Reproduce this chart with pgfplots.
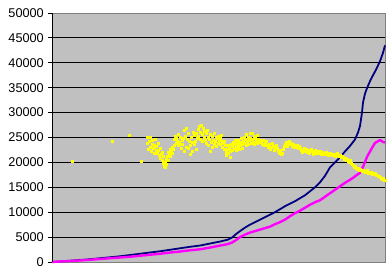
\documentclass[border=0pt]{standalone}
\usepackage{pgfplots}
\pgfplotsset{compat=1.18}
\usepackage{fontspec}
\setmainfont{Liberation Sans}
\definecolor{bg}{HTML}{C0C0C0}
\definecolor{frame}{HTML}{808080}
\definecolor{navyc}{HTML}{000080}
\definecolor{magc}{HTML}{FF00FF}
\definecolor{yelc}{HTML}{FFFF00}
\begin{document}
\begin{tikzpicture}
\begin{axis}[
  scale only axis,
  width=333pt, height=249pt,
  xmin=52, xmax=385, ymin=0, ymax=50000,
  xtick=\empty,
  ytick={0,5000,...,50000},
  ytick pos=left,
  tick align=outside,
  major tick length=4pt,
  tick style={black, line width=0.8pt},
  ymajorgrids,
  grid style={black, line width=0.8pt},
  axis background/.style={fill=bg},
  axis line style={frame, line width=0.8pt},
  scaled y ticks=false,
  /pgf/number format/assume math mode=true,
  yticklabel={\pgfmathprintnumber[fixed,1000 sep={}]{\tick}},
  yticklabel style={font=\fontsize{12.7}{14}\selectfont, inner sep=1pt, xshift=-3pt},
  clip=false,
]
\addplot[navyc, line width=1.8pt, line join=round] coordinates {
(52,0)(60,100)(70,250)(80,400)(90,550)(100,750)(110,950)(120,1150)(130,1400)
(140,1650)(150,1900)(160,2150)(170,2450)(180,2750)(190,3050)(200,3300)(210,3700)
(220,4100)(228,4500)(232,4900)(236,5600)(240,6200)(245,6900)(250,7500)(255,8000)
(260,8500)(265,9000)(270,9500)(275,10000)(280,10600)(285,11200)(290,11700)(295,12200)
(300,12800)(305,13400)(310,14200)(315,15000)(320,16000)(325,17300)(330,19000)(335,20000)
(340,21000)(345,22200)(350,23300)(355,24600)(358,26000)(360,27300)(362,30000)(363,32000)
(365,33800)(367,34900)(370,36300)(373,37500)(376,38600)(380,40300)(383,42000)(385,43500)
};
\addplot[magc, line width=2.4pt, line join=round] coordinates {
(52,0)(60,100)(70,200)(80,300)(90,450)(100,600)(110,750)(120,900)(130,1050)
(140,1250)(150,1450)(160,1650)(170,1900)(180,2100)(190,2350)(200,2550)(210,2900)
(220,3300)(228,3600)(232,3900)(236,4400)(240,5000)(245,5500)(250,5900)(255,6200)
(260,6500)(265,6800)(270,7100)(275,7600)(280,8000)(285,8500)(290,9200)(295,9800)
(300,10300)(305,10900)(310,11500)(315,12000)(320,12400)(325,13100)(330,13800)(335,14500)
(340,15200)(345,15900)(350,16500)(353,16900)(357,17500)(360,17900)(363,19100)(367,21100)
(372,22900)(375,23900)(380,24500)(383,24100)(385,24000)
};
\addplot[yelc, only marks, mark=square*, mark size=1pt, mark options={draw=yelc, fill=yelc}] coordinates {
(72,20300)(112,24300)(129,25500)(141,20300)(149,25100)
(147,23800)(147,25100)(148,22600)(149,24200)(150,23000)(150,25000)(151,22200)(152,23600)
(152,24400)(153,22900)(154,21900)(154,23400)(155,24700)(156,22500)(156,23200)(157,21800)
(158,23900)(158,22400)(159,21400)(160,22800)(160,20900)(161,21600)(162,20400)(162,22100)
(163,19800)(163,21200)(164,19300)(165,20100)(165,19000)(166,20700)(166,19600)(167,21300)
(168,20500)(168,22000)(169,21700)(170,22600)(170,21200)(171,22300)(172,23000)(172,21900)
(173,22700)(174,23500)(174,24600)(175,25300)(176,23900)(176,24800)(177,24300)(178,25600)
(178,23400)(179,24100)(180,25000)(180,23700)(181,22800)(182,24500)(182,23600)(183,24900)
(184,22300)(184,26400)(185,25200)(186,23100)(186,26800)(187,24700)(188,22900)(188,25800)
(189,24200)(190,23500)(190,21600)(191,25100)(192,24000)(192,22200)(193,26100)(194,23700)
(194,25400)(195,24300)(196,22700)(196,25900)(197,24800)(198,26600)(198,25300)(199,27300)
(200,24600)(200,26000)(201,27500)(202,25700)(202,24300)(203,26900)(204,25100)(204,26300)
(205,24500)(206,25800)(206,23900)(207,26400)(208,25000)(208,23400)(209,24700)(210,22300)
(210,25600)(211,24100)(212,23000)(212,25200)(213,24500)(214,23700)(214,25900)(215,24300)
(216,23300)(216,25000)(217,24800)(218,23900)(218,25300)(219,24400)(220,23600)(220,24900)
(221,25500)(222,24200)(222,23100)(223,23800)(224,22700)(224,24300)(225,23400)(226,22000)
(226,21400)(227,22600)(228,23500)(228,21800)(229,22900)(230,21100)(230,22300)(231,23700)
(232,22500)(232,23200)(233,24000)(234,22800)(234,23600)(235,24400)(236,23100)(236,22400)
(237,23900)(238,24500)(238,23300)(239,22700)(240,24100)(240,23500)(241,24800)(242,23600)
(242,22900)(243,24300)(244,25100)(244,23800)(245,24600)(246,23400)(246,25600)(247,24200)
(248,25000)(248,23700)(249,24400)(250,25800)(250,24900)(251,23900)(252,25900)(252,24600)
(253,24100)(254,25200)(254,23600)(255,24800)(256,24300)(257,25400)(257,23800)(258,24700)
(259,24000)(260,24400)
(261,24200)(262,23700)(263,24500)(264,23500)(265,23900)(266,24300)(267,23400)(268,23000)
(269,23600)(270,22700)(271,23100)(272,23800)(273,23300)(274,22500)(275,22900)(276,23400)
(277,22800)(278,22200)(279,21800)(280,22400)(281,21600)(282,21900)(283,22600)(284,23200)
(285,23700)(286,24000)(287,23300)(288,23800)(289,24200)(290,23600)(291,23900)(292,23300)
(293,23700)(294,23100)(295,23500)(296,23000)(297,23400)(298,22800)(299,23300)(300,22900)
(301,22500)(302,22000)(303,22400)(304,22800)(305,22200)(306,22600)(307,22100)(308,22500)
(309,21900)(310,22300)(311,22700)(312,22200)(313,21700)(314,22100)(315,22400)(316,21800)
(317,22000)(318,22300)(319,21900)(320,22200)(321,21700)(322,22000)(323,21900)(324,21600)
(325,21800)(326,22000)(327,21700)(328,21500)(329,21800)(330,21900)(331,21600)(332,21400)
(333,21700)(334,21500)(335,21300)(336,21600)(337,21800)(338,21400)(339,21200)(340,21500)
(341,21000)(342,21300)(343,21100)(344,20700)(345,20900)(346,20500)(347,20700)(348,20300)
(349,20100)(350,20400)(351,19900)(352,19600)(353,19400)(354,19100)(355,19300)(356,18900)
(357,18600)(358,18800)(359,18500)(360,18700)(361,18400)(362,18200)(363,18500)(364,18300)
(365,18000)(366,18200)(367,18400)(368,17900)(369,18100)(370,17800)(371,18000)(372,17700)
(373,17900)(374,17600)(375,17800)(376,17400)(377,17500)(378,17200)(379,17300)(380,17000)
(381,16900)(382,16700)(383,16800)(384,16500)(385,16400)
};
\draw[black, line width=0.8pt] (rel axis cs:0,0) -- (rel axis cs:0,1);
\coordinate (SW) at (rel axis cs:0,0);
\coordinate (NE) at (rel axis cs:1,1);
\end{axis}
\pgfresetboundingbox
\path ([xshift=-52pt,yshift=-11pt]SW) rectangle ([xshift=7pt,yshift=13pt]NE);
\end{tikzpicture}
\end{document}
